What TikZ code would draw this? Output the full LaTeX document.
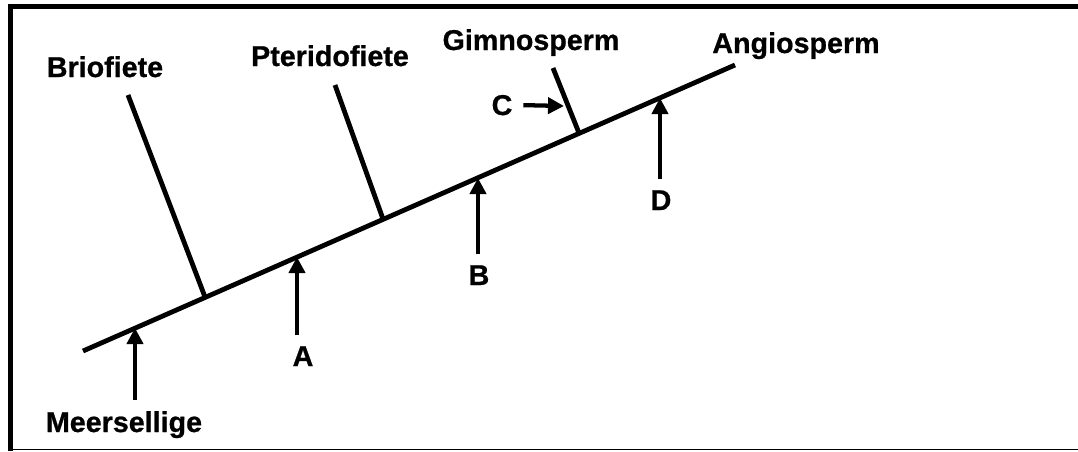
\documentclass[tikz,border=0pt]{standalone}
\usepackage{fontspec}
\setmainfont{Liberation Sans}[BoldFeatures={FakeBold=0.8}]
\usetikzlibrary{arrows.meta}

\begin{document}
\begin{tikzpicture}
  [x=0.75pt,y=-0.75pt,
   every node/.style={font=\fontsize{21.5}{25}\selectfont\bfseries,inner sep=8pt},
   stem/.style={line width=3.6pt},
   pointer/.style={line width=3.2pt,-{Triangle[width=12pt,length=12pt]}}]
  \useasboundingbox (0,0) rectangle (1078,451);

  % frame
  \draw[line width=3.5pt] (10.5,451) -- (10.5,6.5) -- (1078,6.5);
  \draw[line width=1pt] (8,449.5) -- (1078,449.5);

  % main stem
  \coordinate (root) at (83,351);
  \coordinate (tip) at (735,65);
  \draw[stem] (root) -- (tip);

  % branches
  \coordinate (b1) at (128,95);  \coordinate (j1) at (205,297);
  \coordinate (b2) at (335,85);  \coordinate (j2) at (383,219);
  \coordinate (b3) at (553,68);  \coordinate (j3) at (579,133);
  \foreach \from/\to in {b1/j1, b2/j2, b3/j3}
    \draw[stem] (\from) -- (\to);

  % groups
  \node[anchor=base] (brio) at (105,77) {Briofiete};
  \node[anchor=base] (pter) at (330,66) {Pteridofiete};
  \node[anchor=base] (gimn) at (531,50) {Gimnosperm};
  \node[anchor=base] (angi) at (796,53) {Angiosperm};
  \node[anchor=base] (meer) at (124,432) {Meersellige};

  % characters
  \node[anchor=base] (A) at (303,366) {A};
  \node[anchor=base] (B) at (479,285) {B};
  \node[anchor=base] (C) at (502,115) {C};
  \node[anchor=base] (D) at (661,210) {D};

  \coordinate (m) at (135,328);
  \coordinate (a) at (297,257);
  \coordinate (b) at (478,178);
  \coordinate (c) at (564,106);
  \coordinate (d) at (660,98);

  \foreach \from/\to in {meer/m, A/a, B/b, D/d}
    \draw[pointer] (\to |- \from.north) -- (\to);
  \draw[pointer] (C.east) -- (c);
\end{tikzpicture}
\end{document}
